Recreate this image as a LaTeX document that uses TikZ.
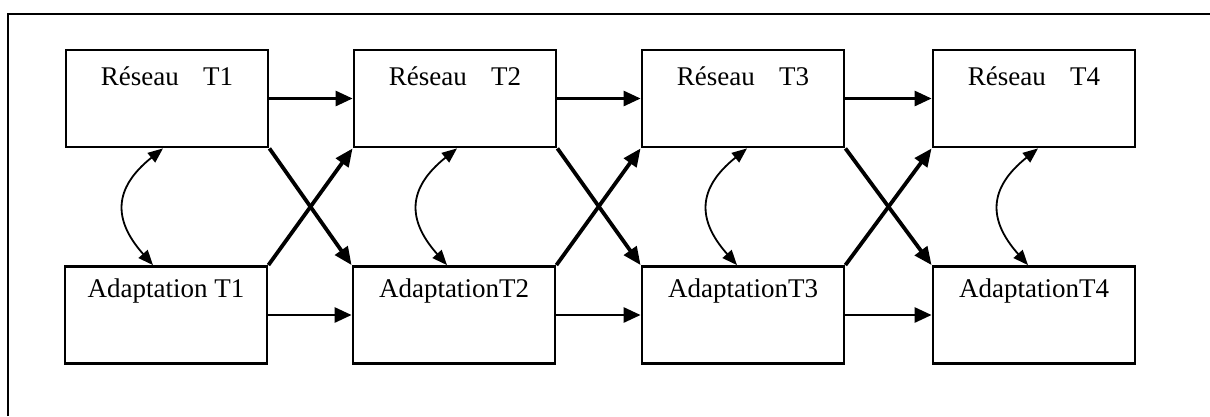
\documentclass[tikz,border=0pt]{standalone}
\usepackage{fontspec}
\setmainfont{Liberation Serif}
\usetikzlibrary{arrows.meta}

\tikzset{
  stagefont/.style={font=\fontsize{27}{32}\selectfont},
  stage/.style={draw, line width=2.8pt, minimum width=202pt, minimum height=97pt,
    inner sep=0pt},
  toplab/.style={label={[anchor=center, yshift=-28pt, stagefont]north:{#1}}},
  botlab/.style={label={[anchor=center, yshift=-26pt, stagefont]north:{#1}}},
  flow/.style={line width=2.8pt, -{Triangle[length=17pt,width=15pt]}},
  cross/.style={line width=3.8pt, -{Triangle[length=18pt,width=15pt]}},
  link/.style={line width=1.8pt, {Triangle[length=15pt,width=12pt]}-{Triangle[length=15pt,width=12pt]}},
  frame/.style={line width=2pt}
}

\begin{document}
\begin{tikzpicture}[x=1pt, y=-1pt]
  \useasboundingbox (0,0) rectangle (1210,416);

  % open frame: top and left edges only
  \coordinate (fl) at (8,416);
  \coordinate (fc) at (8,14);
  \coordinate (fr) at (1212,14);
  \draw[frame] (fl) -- (fc) -- (fr);

  % network stages (top row)
  \node[stage, toplab={Réseau\hspace{0.9em}T1}] (r1) at (167,98.5) {};
  \node[stage, toplab={Réseau\hspace{0.9em}T2}] (r2) at (455,98.5) {};
  \node[stage, toplab={Réseau\hspace{0.9em}T3}] (r3) at (743,98.5) {};
  \node[stage, toplab={Réseau\hspace{0.9em}T4}] (r4) at (1034,98.5) {};

  % adaptation stages (bottom row)
  \node[stage, botlab={Adaptation T1}] (a1) at (166,315) {};
  \node[stage, botlab={AdaptationT2}] (a2) at (454,315) {};
  \node[stage, botlab={AdaptationT3}] (a3) at (743,315) {};
  \node[stage, botlab={AdaptationT4}] (a4) at (1034,315) {};

  % horizontal transitions
  \foreach \i/\j in {1/2,2/3,3/4} {
    \draw[flow] (r\i.east) -- (r\j.west);
    \draw[flow] (a\i.east) -- (a\j.west);
  }

  % crossed transitions
  \foreach \i/\j in {1/2,2/3,3/4} {
    \draw[cross] (r\i.south east) -- (a\j.north west);
    \draw[cross] (a\i.north east) -- (r\j.south west);
  }

  % two-way links between network and adaptation of the same stage
  \foreach \i/\t/\b in {1/-4/-13, 2/2/-7, 3/4/-6, 4/4/-6} {
    \draw[link] ([xshift=\t pt]r\i.south) .. controls +(-50,40) and +(-40,-45) .. ([xshift=\b pt]a\i.north);
  }
\end{tikzpicture}
\end{document}
